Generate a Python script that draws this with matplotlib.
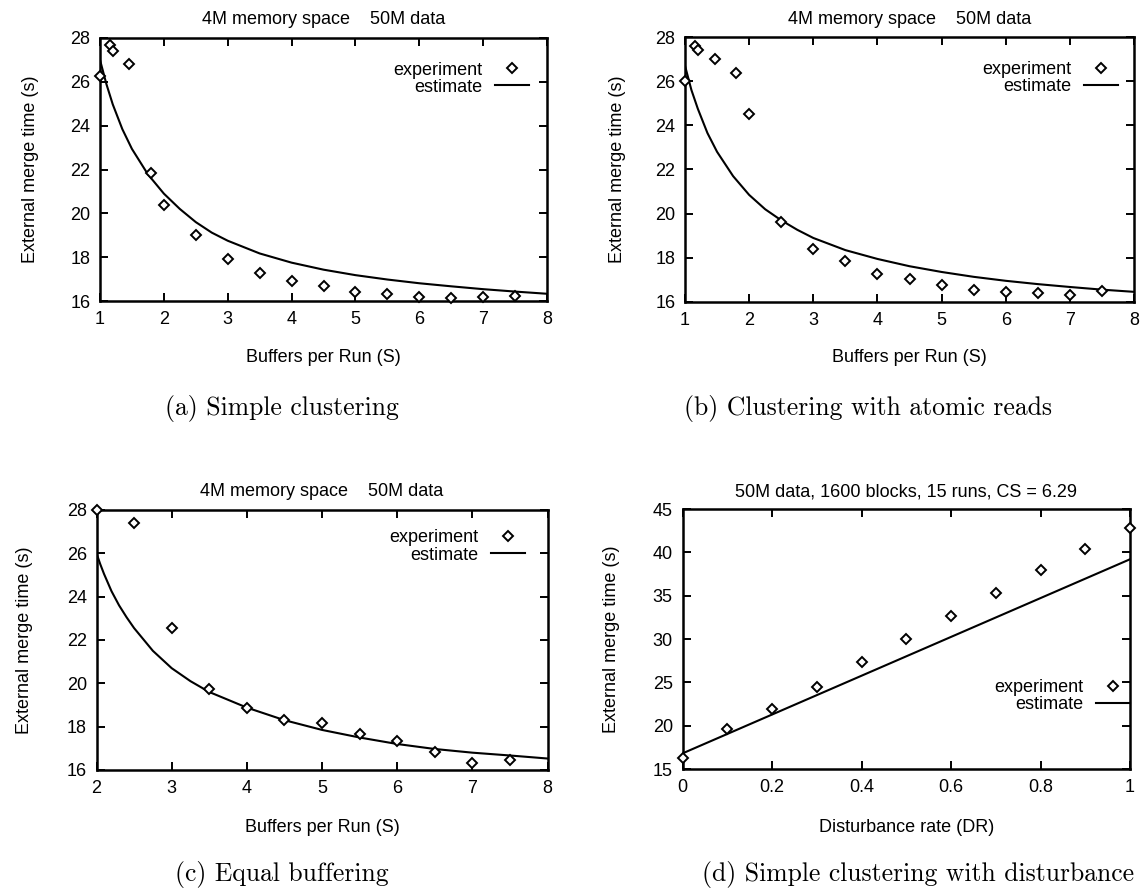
import matplotlib
matplotlib.use("Agg")
import matplotlib.pyplot as plt

plt.rcParams['font.family'] = ['Liberation Sans', 'DejaVu Sans']

# ---------------- data ----------------
# (a) Simple clustering
a_exp_x = [1.0, 1.15, 1.21, 1.46, 1.8, 2.0, 2.5, 3.0, 3.5, 4.0, 4.5, 5.0, 5.5, 6.0, 6.5, 7.0, 7.5]
a_exp_y = [26.25, 27.7, 27.4, 26.83, 21.85, 20.4, 19.0, 17.9, 17.3, 16.9, 16.7, 16.4, 16.3, 16.2, 16.15, 16.2, 16.25]
a_est_x = [1.0, 1.1, 1.2, 1.35, 1.5, 1.75, 2.0, 2.25, 2.5, 2.75, 3.0, 3.5, 4.0, 4.5, 5.0, 5.5, 6.0, 6.5, 7.0, 7.5, 8.0]
a_est_y = [27.0, 25.9, 24.97, 23.84, 22.94, 21.78, 20.9, 20.2, 19.6, 19.12, 18.75, 18.17, 17.75, 17.43, 17.18, 16.98, 16.81, 16.67, 16.54, 16.43, 16.33]

# (b) Clustering with atomic reads
b_exp_x = [1.0, 1.15, 1.21, 1.47, 1.8, 2.0, 2.5, 3.0, 3.5, 4.0, 4.5, 5.0, 5.5, 6.0, 6.5, 7.0, 7.5]
b_exp_y = [26.0, 27.6, 27.4, 27.0, 26.35, 24.5, 19.6, 18.4, 17.85, 17.27, 17.05, 16.75, 16.55, 16.45, 16.4, 16.3, 16.5]
b_est_x = [1.0, 1.1, 1.2, 1.35, 1.5, 1.75, 2.0, 2.25, 2.5, 2.75, 3.0, 3.5, 4.0, 4.5, 5.0, 5.5, 6.0, 6.5, 7.0, 7.5, 8.0]
b_est_y = [26.7, 25.6, 24.75, 23.65, 22.8, 21.7, 20.85, 20.2, 19.7, 19.27, 18.9, 18.35, 17.95, 17.62, 17.36, 17.14, 16.96, 16.81, 16.68, 16.56, 16.46]

# (c) Equal buffering
c_exp_x = [2.0, 2.5, 3.0, 3.5, 4.0, 4.5, 5.0, 5.5, 6.0, 6.5, 7.0, 7.5]
c_exp_y = [28.0, 27.4, 22.57, 19.74, 18.85, 18.3, 18.19, 17.64, 17.33, 16.84, 16.33, 16.48]
c_est_x = [2.0, 2.05, 2.1, 2.2, 2.3, 2.4, 2.5, 2.75, 3.0, 3.25, 3.5, 4.0, 4.5, 5.0, 5.5, 6.0, 6.5, 7.0, 7.5, 8.0]
c_est_y = [26.0, 25.5, 25.05, 24.25, 23.6, 23.05, 22.55, 21.5, 20.7, 20.1, 19.6, 18.88, 18.3, 17.85, 17.5, 17.2, 16.97, 16.8, 16.67, 16.53]

# (d) Simple clustering with disturbance
d_exp_x = [0.0, 0.1, 0.2, 0.3, 0.4, 0.5, 0.6, 0.7, 0.8, 0.9, 1.0]
d_exp_y = [16.25, 19.6, 21.9, 24.5, 27.3, 30.0, 32.6, 35.3, 38.0, 40.35, 42.8]
d_est_x = [0.0, 0.5, 1.0]
d_est_y = [16.8, 28.0, 39.2]

titles = ["4M memory space    50M data", "4M memory space    50M data",
          "4M memory space    50M data", "50M data, 1600 blocks, 15 runs, CS = 6.29"]
xlabels = ["Buffers per Run (S)", "Buffers per Run (S)", "Buffers per Run (S)", "Disturbance rate (DR)"]
ylabel = "External merge time (s)"
captions = ["(a) Simple clustering", "(b) Clustering with atomic reads",
            "(c) Equal buffering", "(d) Simple clustering with disturbance"]
xlims = [(1, 8), (1, 8), (2, 8), (0, 1)]
ylims = [(16, 28), (16, 28), (16, 28), (15, 45)]
xticks = [[1, 2, 3, 4, 5, 6, 7, 8], [1, 2, 3, 4, 5, 6, 7, 8], [2, 3, 4, 5, 6, 7, 8],
          [0, 0.2, 0.4, 0.6, 0.8, 1]]
xticklabels = [["1", "2", "3", "4", "5", "6", "7", "8"], ["1", "2", "3", "4", "5", "6", "7", "8"],
               ["2", "3", "4", "5", "6", "7", "8"], ["0", "0.2", "0.4", "0.6", "0.8", "1"]]
yticks = [[16, 18, 20, 22, 24, 26, 28]] * 3 + [[15, 20, 25, 30, 35, 40, 45]]

exp_x = [a_exp_x, b_exp_x, c_exp_x, d_exp_x]
exp_y = [a_exp_y, b_exp_y, c_exp_y, d_exp_y]
est_x = [a_est_x, b_est_x, c_est_x, d_est_x]
est_y = [a_est_y, b_est_y, c_est_y, d_est_y]

# ---------------- layout (pixels) ----------------
W, H = 1141, 891
boxes = [(100, 38, 547, 301), (685, 37, 1134, 302), (96.5, 510, 547.5, 770), (682.5, 509, 1130, 769)]
ylabel_px = [31, 617, 25, 611]
xlabel_py = [358, 358, 828, 828]
title_py = [20, 20, 492, 492]
caption_pos = [(282, 408), (868, 408), (282, 874), (918, 874)]
leg_anchor = [((0.96, 0.91), 'upper right'), ((0.964, 0.91), 'upper right'),
              ((0.951, 0.925), 'upper right'), ((1.0, 0.215), 'lower right')]

fig = plt.figure(figsize=(W / 100, H / 100), dpi=100)
FS = 13

for i in range(4):
    l, t, r, b = boxes[i]
    ax = fig.add_axes([l / W, 1 - b / H, (r - l) / W, (b - t) / H])
    ax.plot(exp_x[i], exp_y[i], linestyle='none', marker='D', markersize=5.5,
            markerfacecolor='white', markeredgecolor='black', markeredgewidth=1.4,
            label='experiment', clip_on=False, zorder=3)
    ax.plot(est_x[i], est_y[i], color='black', linewidth=1.5, label='estimate', zorder=2)
    ax.set_xlim(*xlims[i])
    ax.set_ylim(*ylims[i])
    ax.set_xticks(xticks[i])
    ax.set_xticklabels(xticklabels[i])
    ax.set_yticks(yticks[i])
    ax.tick_params(direction='in', top=True, right=True, length=6, width=1.4,
                   labelsize=FS, pad=7)
    for s in ax.spines.values():
        s.set_linewidth(1.8)
    # title
    ax.text(0.5, (b - title_py[i]) / (b - t), titles[i], transform=ax.transAxes,
            ha='center', va='center', fontsize=FS)
    ax.set_xlabel(xlabels[i], fontsize=FS)
    ax.set_ylabel(ylabel, fontsize=FS)
    ax.xaxis.set_label_coords(0.5, (b - xlabel_py[i]) / (b - t))
    ax.yaxis.set_label_coords((ylabel_px[i] - l) / (r - l), 0.5)
    ax.xaxis.label.set_va('center')
    ax.yaxis.label.set_va('center')
    anchor, loc = leg_anchor[i]
    ax.legend(loc=loc, bbox_to_anchor=anchor, frameon=False, markerfirst=False,
              fontsize=FS, numpoints=1, handlelength=1.9, handletextpad=0.7,
              labelspacing=0.0, borderpad=0, borderaxespad=0)
    cx, cy = caption_pos[i]
    fig.text(cx / W, 1 - cy / H, captions[i], family='cmr10', fontsize=18.5,
             ha='center', va='center')

fig.savefig('out.png', dpi=100)
